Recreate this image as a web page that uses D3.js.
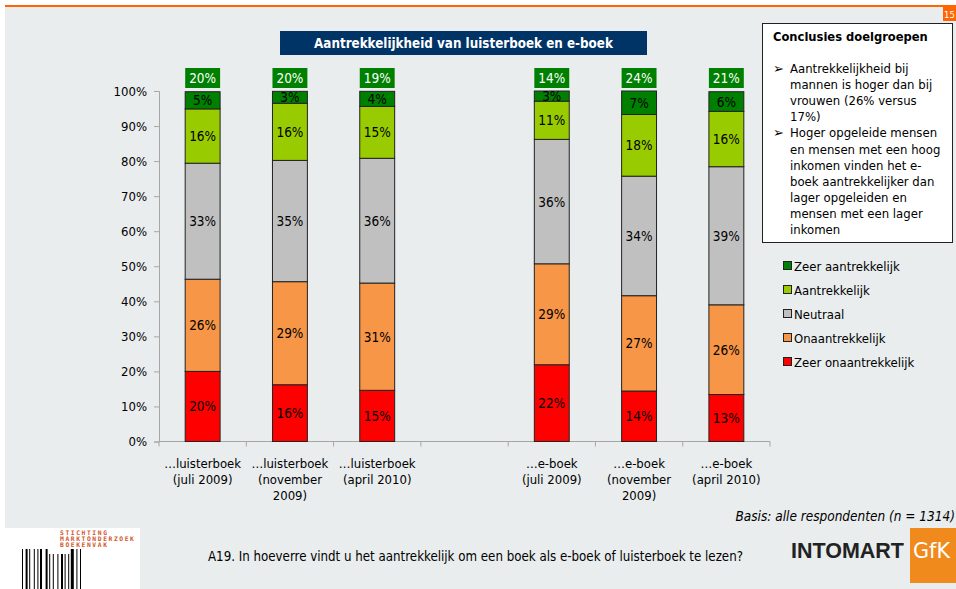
<!DOCTYPE html>
<html><head><meta charset="utf-8">
<script src="https://cdn.jsdelivr.net/npm/d3@7"></script>
<style>
html,body{margin:0;padding:0;background:#fff;}
svg{display:block;}
text{font-family:Tahoma,"DejaVu Sans Condensed","Noto Sans",sans-serif;}
</style></head>
<body>
<script>
// ---- data ----
const categories = ["…luisterboek|(juli 2009)", "…luisterboek|(november|2009)", "…luisterboek|(april 2010)", "", "…e-boek|(juli 2009)", "…e-boek|(november|2009)", "…e-boek|(april 2010)"];
const seriesNames = ["Zeer onaantrekkelijk", "Onaantrekkelijk", "Neutraal", "Aantrekkelijk", "Zeer aantrekkelijk"];
const seriesColors = ["#FF0000", "#F79646", "#C0C0C0", "#99CC00", "#008000"];
const zeerOnaantrekkelijk = [20.0, 16.2, 14.6, null, 21.9, 14.4, 13.4];
const onaantrekkelijk     = [26.3, 29.4, 30.6, null, 28.8, 27.2, 25.6];
const neutraal            = [33.1, 34.6, 35.6, null, 35.5, 34.1, 39.4];
const aantrekkelijk       = [15.5, 16.3, 14.8, null, 10.9, 17.6, 15.8];
const zeerAantrekkelijk   = [4.9, 3.4, 4.3, null, 2.9, 6.7, 5.6];
const yTicks = [0, 10, 20, 30, 40, 50, 60, 70, 80, 90, 100];
const title = "Aantrekkelijkheid van luisterboek en e-boek";
const conclusionsTitle = "Conclusies doelgroepen";
const bullets = [
  ["Aantrekkelijkheid bij", "mannen is hoger dan bij", "vrouwen (26% versus", "17%)"],
  ["Hoger opgeleide mensen", "en mensen met een hoog", "inkomen vinden het e-", "boek aantrekkelijker dan", "lager opgeleiden en", "mensen met een lager", "inkomen"]
];
const basis = "Basis: alle respondenten (n = 1314)";
const question = "A19. In hoeverre vindt u het aantrekkelijk om een boek als e-boek of luisterboek te lezen?";

const seriesValues = [zeerOnaantrekkelijk, onaantrekkelijk, neutraal, aantrekkelijk, zeerAantrekkelijk];
const rows = categories.map((c, i) => {
  const o = {cat: c, idx: i};
  seriesNames.forEach((s, j) => o[s] = seriesValues[j][i]);
  return o;
});
const dataRows = rows.filter(r => r[seriesNames[0]] != null);

const W = 956, H = 589;
const svg = d3.select("body").append("svg").attr("width", W).attr("height", H);

// background
svg.append("rect").attr("x", 0).attr("y", 0).attr("width", W).attr("height", H).attr("fill", "#fff");
svg.append("rect").attr("x", 5).attr("y", 7).attr("width", W - 5).attr("height", H - 7).attr("fill", "#E9EDEE");
svg.append("rect").attr("x", 5).attr("y", 5).attr("width", W - 5).attr("height", 2).attr("fill", "#FF6600");
svg.append("rect").attr("x", 943).attr("y", 7).attr("width", 13).attr("height", 14).attr("fill", "#FF6600");
svg.append("text").attr("x", 944).attr("y", 17.5).attr("fill", "#fff").attr("font-size", 9.5).text("15");

// title
svg.append("rect").attr("x", 280).attr("y", 31).attr("width", 367).attr("height", 24).attr("fill", "#003366");
svg.append("text").attr("x", 463.5).attr("y", 48).attr("text-anchor", "middle").attr("fill", "#fff")
  .attr("font-size", 13.3).attr("font-weight", "bold").text(title);

// scales
const x = d3.scaleBand().domain(categories).range([159, 770]).paddingInner(0.6).paddingOuter(0.3);
const y = d3.scaleLinear().domain([0, 100]).range([441.5, 91]);

// y axis
const yAxis = svg.append("g").attr("transform", "translate(159,0)")
  .call(d3.axisLeft(y).tickValues(yTicks).tickSize(5).tickPadding(7).tickFormat(d => d + "%"));
yAxis.select(".domain").attr("stroke", "#A6A6A6");
yAxis.selectAll(".tick line").attr("stroke", "#A6A6A6");
yAxis.selectAll(".tick text").attr("font-size", 13).attr("fill", "#000")
  .style("font-family", 'Tahoma,"DejaVu Sans Condensed","Noto Sans",sans-serif');

// x axis
const xg = svg.append("g");
xg.append("line").attr("x1", 159).attr("x2", 770).attr("y1", y(0)).attr("y2", y(0)).attr("stroke", "#A6A6A6");
d3.range(categories.length + 1).forEach(i => {
  const xx = 159 + i * x.step();
  xg.append("line").attr("x1", xx).attr("x2", xx).attr("y1", y(0)).attr("y2", y(0) + 5).attr("stroke", "#A6A6A6");
});
categories.forEach(c => {
  if (!c) return;
  const t = xg.append("text").attr("text-anchor", "middle").attr("font-size", 13).attr("fill", "#000");
  c.split("|").forEach((ln, k) => {
    t.append("tspan").attr("x", x(c) + x.bandwidth() / 2).attr("y", 468 + k * 16).text(ln);
  });
});

// stacked bars
const stack = d3.stack().keys(seriesNames)(dataRows);
const colorOf = d3.scaleOrdinal().domain(seriesNames).range(seriesColors);
stack.forEach(layer => {
  const g = svg.append("g");
  g.selectAll("rect").data(layer).join("rect")
    .attr("x", d => x(d.data.cat))
    .attr("width", x.bandwidth())
    .attr("y", d => y(d[1]))
    .attr("height", d => y(d[0]) - y(d[1]))
    .attr("fill", colorOf(layer.key))
    .attr("stroke", "#222").attr("stroke-width", 1);
});
stack.forEach(layer => {
  svg.append("g").selectAll("text").data(layer).join("text")
    .attr("x", d => x(d.data.cat) + x.bandwidth() / 2)
    .attr("y", d => (y(d[0]) + y(d[1])) / 2 + 5)
    .attr("text-anchor", "middle").attr("font-size", 13.5).attr("fill", "#000")
    .text(d => Math.round(d.data[layer.key]) + "%");
});

// top totals (aantrekkelijk + zeer aantrekkelijk)
const tg = svg.append("g");
dataRows.forEach(r => {
  const tot = Math.round(r["Aantrekkelijk"] + r["Zeer aantrekkelijk"]);
  tg.append("rect").attr("x", x(r.cat)).attr("y", 68).attr("width", x.bandwidth()).attr("height", 20).attr("fill", "#008000");
  tg.append("text").attr("x", x(r.cat) + x.bandwidth() / 2).attr("y", 83).attr("text-anchor", "middle")
    .attr("fill", "#fff").attr("font-size", 13.5).text(tot + "%");
});

// conclusions box
svg.append("rect").attr("x", 762.5).attr("y", 23.5).attr("width", 190).attr("height", 219).attr("fill", "#fff")
  .attr("stroke", "#222").attr("stroke-width", 1);
svg.append("text").attr("x", 773).attr("y", 41).attr("font-size", 12.8).attr("font-weight", "bold").attr("fill", "#000").text(conclusionsTitle);
let ly = 73;
bullets.forEach(b => {
  svg.append("text").attr("x", 773).attr("y", ly).attr("font-size", 13).attr("fill", "#000")
    .style("font-family", "'DejaVu Sans',sans-serif").text("➢");
  b.forEach(ln => {
    svg.append("text").attr("x", 790).attr("y", ly).attr("font-size", 13).attr("fill", "#000").text(ln);
    ly += 16.1;
  });
});

// legend (top to bottom reversed)
const legendOrder = seriesNames.slice().reverse();
legendOrder.forEach((s, i) => {
  const cy = 266 + i * 24;
  svg.append("rect").attr("x", 783.5).attr("y", cy - 4.5).attr("width", 8).attr("height", 8)
    .attr("fill", colorOf(s)).attr("stroke", "#222").attr("stroke-width", 1);
  svg.append("text").attr("x", 794).attr("y", cy + 4.5).attr("font-size", 13).attr("fill", "#000").text(s);
});

// footer
svg.append("text").attr("x", 955).attr("y", 521).attr("text-anchor", "end").attr("font-size", 13.5)
  .attr("font-style", "italic").attr("fill", "#000").text(basis);
svg.append("text").attr("x", 208).attr("y", 561).attr("font-size", 13.2).attr("fill", "#000").text(question);

// left logo
svg.append("rect").attr("x", 0).attr("y", 528).attr("width", 140).attr("height", 61).attr("fill", "#fff");
["STICHTING", "MARKTONDERZOEK", "BOEKENVAK"].forEach((t, i) => {
  svg.append("text").attr("x", 60).attr("y", 534.5 + i * 6).attr("font-size", 6.3).attr("font-weight", "bold")
    .attr("fill", "#D2542A").style("font-family", "'DejaVu Sans Mono',monospace").style("letter-spacing", "1.6px").text(t);
});
const barW = [1, 2, 2, 1, 1, 3, 1, 2, 1, 1, 2, 3, 2, 1, 1, 2, 1, 3, 1, 2, 2, 1, 1, 2, 1, 1, 3, 2, 1, 2, 1];
let bx = 22;
barW.forEach((w, i) => {
  if (i % 2 === 0) {
    const top = (bx > 48 && bx < 70) ? 554 : 549;
    svg.append("rect").attr("x", bx).attr("y", top).attr("width", w).attr("height", H - top).attr("fill", "#000");
  }
  bx += w + 0.3;
});

// INTOMART GfK logo
svg.append("text").attr("x", 791).attr("y", 558).attr("font-size", 22).attr("font-weight", "bold").attr("fill", "#222")
  .attr("textLength", 113).attr("lengthAdjust", "spacingAndGlyphs")
  .style("font-family", "'Liberation Sans',Arial,sans-serif").text("INTOMART");
svg.append("rect").attr("x", 910).attr("y", 528).attr("width", 46).attr("height", 55).attr("fill", "#F08A1C");
svg.append("text").attr("x", 913).attr("y", 558).attr("font-size", 22).attr("fill", "#fff")
  .attr("textLength", 37).attr("lengthAdjust", "spacingAndGlyphs").text("GfK");
</script>
</body></html>
